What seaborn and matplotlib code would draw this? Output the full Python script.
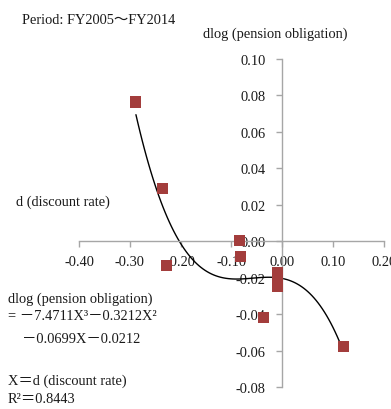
import matplotlib
matplotlib.use("Agg")
import matplotlib.pyplot as plt
import seaborn as sns
import numpy as np
import pandas as pd

# ---- data ----
discount_rate = [-0.288, -0.235, -0.227, -0.085, -0.083, -0.010, -0.009, -0.009, -0.037, 0.120]
pension_dlog = [0.0764, 0.029, -0.0132, 0.0005, -0.0086, -0.017, -0.022, -0.025, -0.042, -0.058]
x_ticks = [-0.40, -0.30, -0.20, -0.10, 0.00, 0.10, 0.20]
y_ticks = [-0.08, -0.06, -0.04, -0.02, 0.00, 0.02, 0.04, 0.06, 0.08, 0.10]

df = pd.DataFrame({"x": discount_rate, "y": pension_dlog})

sns.set_style("white")
plt.rcParams["font.family"] = ["Liberation Serif", "Noto Sans CJK JP", "DejaVu Sans"]
plt.rcParams["axes.unicode_minus"] = False

W, H = 391, 410
fig = plt.figure(figsize=(W / 100, H / 100), dpi=100)
ax = fig.add_axes([79 / W, 1 - 388 / H, (384 - 79) / W, (388 - 60) / H])

# cubic trendline
sns.regplot(data=df, x="x", y="y", order=3, ci=None, scatter=False, truncate=True,
            line_kws=dict(color="black", lw=1.0), ax=ax)
# markers
sns.scatterplot(data=df, x="x", y="y", marker="s", s=64, color="#A33D3C",
                edgecolor="none", ax=ax, zorder=3)

ax.set_xlim(-0.40, 0.20)
ax.set_ylim(-0.08, 0.10)
ax.set_xticks(x_ticks)
ax.set_yticks(y_ticks)
ax.set_xticklabels([f"{v:.2f}" for v in x_ticks])
ax.set_yticklabels([f"{v:.2f}" for v in y_ticks])
ax.set_xlabel("")
ax.set_ylabel("")

for s in ["top", "right"]:
    ax.spines[s].set_visible(False)
ax.spines["left"].set_position(("data", 0))
ax.spines["bottom"].set_position(("data", 0))
for s in ["left", "bottom"]:
    ax.spines[s].set_color("#a6a6a6")
    ax.spines[s].set_linewidth(1.0)
fs = 10.4
tc = "#1a1a1a"
ax.tick_params(axis="both", direction="out", length=4, width=1, color="#a6a6a6",
               labelsize=fs, labelcolor=tc, left=True, bottom=True)
ax.tick_params(axis="y", pad=8)
ax.tick_params(axis="x", pad=6)

def ftxt(px, py, s, ha="left"):
    fig.text(px / W, 1 - py / H, s, ha=ha, va="center", fontsize=fs, color=tc)

ftxt(22, 20, "Period: FY2005～FY2014")
ftxt(203, 34, "dlog (pension obligation)")
ftxt(16, 202, "d (discount rate)")
ftxt(8, 299, "dlog (pension obligation)")
ftxt(8, 317, "= －7.4711X³－0.3212X²")
ftxt(22, 340, "－0.0699X－0.0212")
ftxt(8, 381, "X＝d (discount rate)")
ftxt(8, 400, "R²＝0.8443")

fig.savefig("out.png", dpi=100)
